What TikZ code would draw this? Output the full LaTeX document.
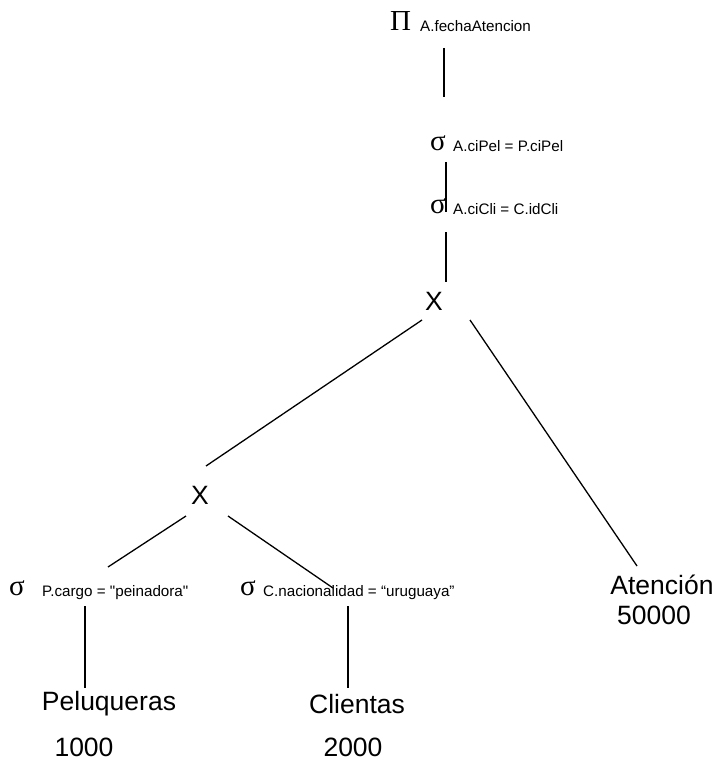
\documentclass[tikz,border=0pt]{standalone}
\usepackage{fontspec}
\setmainfont{Liberation Sans}[Ligatures=TeXOff]
\newfontfamily\symfont{Liberation Serif}
\begin{document}
\begin{tikzpicture}[x=1pt,y=-1pt,
  lbl/.style={inner sep=0pt,font=\fontsize{26.5}{28}\selectfont},
  sub/.style={inner sep=0pt,anchor=base west,font=\fontsize{15.2}{17}\selectfont},
  op/.style={inner sep=0pt,anchor=base west,font=\symfont\fontsize{29}{30}\selectfont},
  edge/.style={line width=1.3pt,black}]
\useasboundingbox (0,0) rectangle (715,762);
% projection
\node[op] (pi) at (390,31) {Π};
\node[sub] (pis) at (420,32) {A.fechaAtencion};
\coordinate (p1) at (444,48);
\coordinate (p2) at (444,97);
\draw[edge] (p1) -- (p2);
% selections
\node[op] (s1) at (430,151) {σ};
\node[sub] (s1s) at (453,152) {A.ciPel = P.ciPel};
\coordinate (a1) at (446,162);
\coordinate (a2) at (446,212);
\draw[edge] (a1) -- (a2);
\node[op] (s2) at (430,213) {σ};
\node[sub] (s2s) at (453,214) {A.ciCli = C.idCli};
\coordinate (b1) at (446,232);
\coordinate (b2) at (446,282);
\draw[edge] (b1) -- (b2);
% top product
\node[lbl] (x1) at (434,301) {X};
\coordinate (x1l) at (422,320);
\coordinate (x1r) at (470,320);
% second product
\node[lbl] (x2) at (200,495) {X};
\coordinate (x2t) at (206,466);
\coordinate (x2l) at (186,516);
\coordinate (x2r) at (228,516);
\draw[edge] (x1l) -- (x2t);
% Atencion
\node[lbl] (at) at (662,585) {Atención};
\node[lbl] (atn) at (654,615) {50000};
\coordinate (att) at (637,566);
\draw[edge] (x1r) -- (att);
% lower selections
\node[op] (s3) at (9,595) {σ};
\node[sub] (s3s) at (42,596) {P.cargo = "peinadora"};
\node[op] (s4) at (240,595) {σ};
\node[sub] (s4s) at (263,596) {C.nacionalidad = “uruguaya”};
\coordinate (s3t) at (108,567);
\coordinate (s4t) at (333,588);
\draw[edge] (x2l) -- (s3t);
\draw[edge] (x2r) -- (s4t);
\coordinate (s3b) at (85,606);
\coordinate (s4b) at (348,606);
% relations
\node[lbl] (pel) at (109,704) {Peluqueras};
\node[lbl] (pn) at (84,747) {1000};
\node[lbl] (cli) at (357,704) {Clientas};
\node[lbl] (cn) at (353,747) {2000};
\coordinate (pelt) at (85,688);
\coordinate (clit) at (348,688);
\draw[edge] (s3b) -- (pelt);
\draw[edge] (s4b) -- (clit);
\end{tikzpicture}
\end{document}
